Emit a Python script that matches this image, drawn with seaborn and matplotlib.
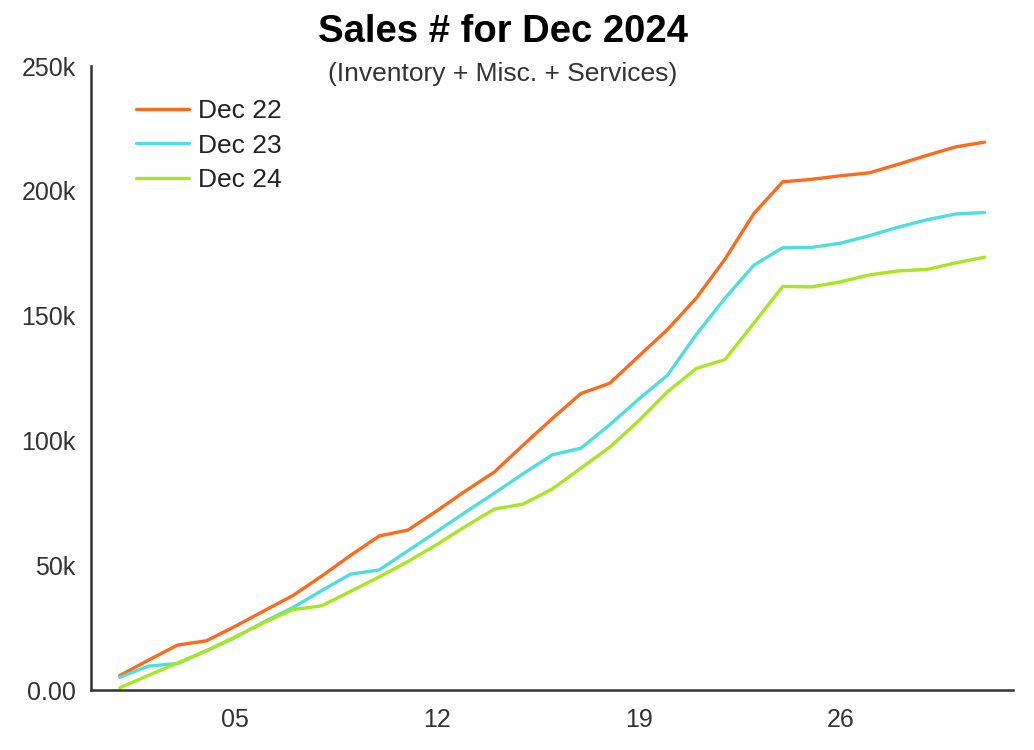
import matplotlib
matplotlib.use("Agg")
import matplotlib.pyplot as plt
import seaborn as sns
import pandas as pd

# cumulative sales per day of December, in thousands
DAYS = list(range(1, 32))
DEC_22 = [5.8, 12.0, 18.0, 19.7, 25.5, 31.7, 37.8, 45.6, 53.9, 61.7,
          64.1, 71.8, 79.8, 87.4, 98.2, 108.7, 118.8, 122.9, 133.7, 144.4,
          157.0, 172.7, 190.9, 203.6, 204.6, 206.0, 207.2, 210.6, 214.2, 217.6,
          219.5]
DEC_23 = [5.1, 9.6, 10.6, 15.7, 21.0, 27.3, 33.0, 39.8, 46.4, 48.1,
          55.8, 63.5, 71.3, 78.9, 86.7, 94.2, 96.9, 106.3, 116.5, 126.1,
          142.4, 157.0, 170.2, 177.2, 177.3, 179.0, 182.0, 185.4, 188.4, 190.7,
          191.3]
DEC_24 = [0.9, 5.9, 10.8, 15.7, 21.3, 27.0, 32.2, 33.7, 39.5, 45.3,
          51.5, 58.3, 65.6, 72.5, 74.5, 80.5, 88.9, 97.3, 107.8, 119.5,
          128.8, 132.4, 147.0, 161.7, 161.5, 163.5, 166.3, 167.9, 168.5, 171.1,
          173.4]

SERIES = ['Dec 22', 'Dec 23', 'Dec 24']
COLORS = ['#FF6A1A', '#4DDEDE', '#A8E620']

X_TICKS = [5, 12, 19, 26]
X_LABELS = ['05', '12', '19', '26']
Y_TICKS = [0, 50000, 100000, 150000, 200000, 250000]
Y_LABELS = ['0.00', '50k', '100k', '150k', '200k', '250k']

df = pd.DataFrame({
    'day': DAYS * 3,
    'sales': [v * 1000 for v in DEC_22 + DEC_23 + DEC_24],
    'month': [s for s in SERIES for _ in DAYS],
})

sns.set_style('white')
plt.rcParams['font.family'] = ['Liberation Sans', 'DejaVu Sans']

fig = plt.figure(figsize=(10.34, 7.5), dpi=100)
ax = fig.add_axes([0.088, 0.08, 0.892, 0.832])

sns.lineplot(data=df, x='day', y='sales', hue='month', hue_order=SERIES,
             palette=COLORS, linewidth=2.4, ax=ax)

ax.set_xlim(0, 32)
ax.set_ylim(0, 250000)
ax.set_xticks(X_TICKS)
ax.set_xticklabels(X_LABELS)
ax.set_yticks(Y_TICKS)
ax.set_yticklabels(Y_LABELS)
ax.set_xlabel('')
ax.set_ylabel('')

for side in ['top', 'right']:
    ax.spines[side].set_visible(False)
for side in ['left', 'bottom']:
    ax.spines[side].set_color('#333333')
    ax.spines[side].set_linewidth(1.8)
ax.tick_params(axis='both', direction='out', length=7, width=1.6,
               color='#333333', labelcolor='#333333', labelsize=18, pad=4)
ax.tick_params(axis='x', length=6, pad=7)

fig.text(0.4865, 0.957, 'Sales # for Dec 2024', ha='center', va='center',
         fontsize=27.5, fontweight='bold', color='black')
fig.text(0.4865, 0.902, '(Inventory + Misc. + Services)', ha='center', va='center',
         fontsize=19, color='#333333')

ax.legend(frameon=False, loc='upper left', bbox_to_anchor=(0.1315, 0.868),
          bbox_transform=fig.transFigure, fontsize=19, handlelength=2.0,
          handletextpad=0.34, labelspacing=0.4, borderpad=0, borderaxespad=0,
          labelcolor='#222222')

fig.savefig('out.png', dpi=100)
